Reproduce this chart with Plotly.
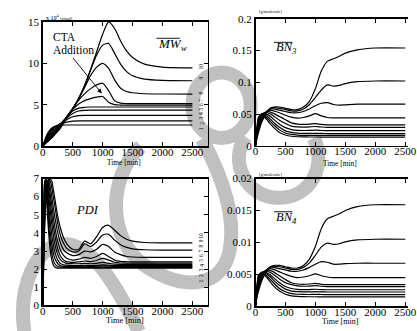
import plotly.graph_objects as go

W, H = 417, 331
FONT = "Liberation Serif"

# ---------------- data ----------------
X_TICKS = [0, 500, 1000, 1500, 2000, 2500]
X_TICKTEXT = ["0", "500", "1000", "1500", "2000", "2500"]
CURVE_LABELS = ["1", "2", "3", "4", "5", "6", "7", "8", "9", "10"]

# Weight-average molecular weight (x 10^4 g/mol), curves 1..10
TIME_MW = [0, 50, 100, 150, 200, 250, 300, 400, 500, 600, 700, 800, 900, 1000,
           1100, 1200, 1300, 1400, 1500, 1700, 2000, 2500]
MW_1 = [0, 1.10, 1.80, 2.20, 2.40, 2.50, 2.55, 2.56, 2.56, 2.56, 2.56, 2.56, 2.56, 2.56,
        2.56, 2.56, 2.56, 2.56, 2.56, 2.56, 2.56, 2.56]
MW_2 = [0, 0.95, 1.60, 2.05, 2.35, 2.55, 2.70, 2.90, 3.02, 3.05, 3.05, 3.05, 3.05, 3.05,
        3.05, 3.05, 3.05, 3.05, 3.05, 3.05, 3.05, 3.05]
MW_3 = [0, 0.85, 1.45, 1.90, 2.25, 2.50, 2.75, 3.20, 3.55, 3.70, 3.73, 3.73, 3.73, 3.73,
        3.73, 3.73, 3.73, 3.73, 3.73, 3.73, 3.73, 3.73]
MW_4 = [0, 0.75, 1.30, 1.75, 2.10, 2.45, 2.75, 3.40, 3.95, 4.25, 4.33, 4.35, 4.35, 4.35,
        4.35, 4.35, 4.35, 4.35, 4.35, 4.35, 4.35, 4.35]
MW_5 = [0, 0.65, 1.15, 1.60, 2.00, 2.35, 2.70, 3.50, 4.25, 4.60, 4.70, 4.73, 4.73, 4.73,
        4.73, 4.73, 4.73, 4.73, 4.73, 4.73, 4.73, 4.73]
MW_6 = [0, 0.55, 1.00, 1.45, 1.85, 2.25, 2.65, 3.55, 4.45, 5.10, 5.50, 5.75, 5.92, 6.00,
        5.30, 5.02, 4.97, 4.97, 4.97, 4.97, 4.97, 4.97]
MW_7 = [0, 0.50, 0.90, 1.30, 1.70, 2.10, 2.55, 3.55, 4.55, 5.55, 6.35, 6.95, 7.40, 7.60,
        6.70, 5.50, 5.20, 5.15, 5.15, 5.15, 5.15, 5.15]
MW_8 = [0, 0.45, 0.80, 1.20, 1.60, 2.00, 2.45, 3.55, 4.55, 5.70, 7.10, 8.55, 9.55, 10.0,
        9.40, 8.00, 7.00, 6.60, 6.45, 6.33, 6.30, 6.28]
MW_9 = [0, 0.40, 0.70, 1.10, 1.50, 1.90, 2.35, 3.45, 4.55, 5.75, 7.30, 9.20, 11.0, 12.2,
        12.4, 11.2, 9.90, 9.00, 8.50, 8.10, 7.95, 7.90]
MW_10 = [0, 0.35, 0.65, 1.00, 1.40, 1.80, 2.25, 3.40, 4.50, 5.80, 7.40, 9.30, 11.4, 13.5,
         15.0, 14.2, 12.7, 11.5, 10.7, 9.90, 9.55, 9.45]
MW_CURVES = [MW_1, MW_2, MW_3, MW_4, MW_5, MW_6, MW_7, MW_8, MW_9, MW_10]

# Polydispersity index, curves 1..10
TIME_PDI = [0, 10, 20, 30, 45, 60, 80, 100, 125, 150, 175, 200, 250, 300, 350, 400,
            500, 600, 700, 800, 900, 1000, 1100, 1200, 1300, 1400, 1500, 1700, 2000, 2500]
PDI_1 = [0, 4.3, 6.2, 6.9, 6.7, 6.0, 4.9, 3.9, 3.0, 2.5, 2.25, 2.12, 2.06, 2.05, 2.05, 2.05,
         2.05, 2.05, 2.05, 2.05, 2.05, 2.05, 2.05, 2.05, 2.05, 2.05, 2.05, 2.05, 2.05, 2.05]
PDI_2 = [0, 3.8, 5.8, 6.7, 6.9, 6.4, 5.4, 4.4, 3.5, 2.9, 2.5, 2.3, 2.15, 2.11, 2.10, 2.10,
         2.10, 2.10, 2.10, 2.10, 2.10, 2.11, 2.10, 2.10, 2.10, 2.10, 2.10, 2.10, 2.10, 2.10]
PDI_3 = [0, 3.4, 5.3, 6.4, 6.95, 6.7, 5.9, 5.0, 4.0, 3.35, 2.9, 2.6, 2.3, 2.18, 2.15, 2.15,
         2.15, 2.15, 2.16, 2.15, 2.16, 2.18, 2.16, 2.15, 2.15, 2.15, 2.15, 2.15, 2.15, 2.15]
PDI_4 = [0, 3.0, 4.9, 6.0, 6.85, 6.9, 6.3, 5.5, 4.6, 3.9, 3.35, 2.95, 2.5, 2.3, 2.24, 2.22,
         2.20, 2.20, 2.21, 2.20, 2.21, 2.24, 2.22, 2.20, 2.20, 2.20, 2.20, 2.20, 2.20, 2.20]
PDI_5 = [0, 2.7, 4.5, 5.7, 6.7, 6.95, 6.6, 6.0, 5.2, 4.5, 3.9, 3.4, 2.8, 2.5, 2.38, 2.32,
         2.30, 2.30, 2.32, 2.30, 2.32, 2.38, 2.32, 2.28, 2.27, 2.27, 2.27, 2.27, 2.27, 2.27]
PDI_6 = [0, 2.4, 4.2, 5.4, 6.5, 6.9, 6.8, 6.4, 5.7, 5.0, 4.4, 3.9, 3.1, 2.7, 2.5, 2.42,
         2.38, 2.40, 2.45, 2.42, 2.48, 2.60, 2.50, 2.38, 2.34, 2.33, 2.33, 2.33, 2.33, 2.33]
PDI_7 = [0, 2.1, 3.9, 5.1, 6.3, 6.8, 6.9, 6.65, 6.1, 5.5, 4.9, 4.35, 3.5, 3.0, 2.75, 2.6,
         2.50, 2.55, 2.65, 2.60, 2.70, 2.87, 2.70, 2.50, 2.43, 2.41, 2.40, 2.40, 2.40, 2.40]
PDI_8 = [0, 1.9, 3.6, 4.8, 6.0, 6.6, 6.9, 6.85, 6.5, 6.0, 5.4, 4.9, 4.0, 3.4, 3.05, 2.9,
         2.75, 2.80, 3.00, 2.95, 3.10, 3.37, 3.25, 2.95, 2.80, 2.70, 2.67, 2.65, 2.65, 2.65]
PDI_9 = [0, 1.7, 3.3, 4.5, 5.7, 6.35, 6.8, 6.95, 6.85, 6.5, 6.0, 5.5, 4.5, 3.8, 3.4, 3.15,
         2.95, 3.00, 3.40, 3.25, 3.50, 3.88, 3.92, 3.60, 3.35, 3.20, 3.12, 3.07, 3.05, 3.05]
PDI_10 = [0, 1.5, 3.0, 4.2, 5.4, 6.1, 6.6, 6.85, 6.95, 6.85, 6.4, 5.9, 4.9, 4.2, 3.7, 3.4,
          3.10, 3.10, 3.55, 3.40, 3.80, 4.30, 4.42, 4.15, 3.85, 3.65, 3.55, 3.47, 3.45, 3.45]
PDI_CURVES = [PDI_1, PDI_2, PDI_3, PDI_4, PDI_5, PDI_6, PDI_7, PDI_8, PDI_9, PDI_10]

# Branching (BN3, BN4), curves 1..10
TIME_BN = [0, 25, 50, 100, 150, 200, 250, 300, 400, 500, 600, 700, 800, 900, 1000,
           1100, 1200, 1300, 1400, 1500, 1700, 2000, 2500]
BN3_1 = [0, 0.030, 0.045, 0.048, 0.045, 0.040, 0.034, 0.029, 0.021, 0.017, 0.0150, 0.0142,
         0.0139, 0.0138, 0.0138, 0.0137, 0.0137, 0.0136, 0.0136, 0.0136, 0.0136, 0.0136, 0.0136]
BN3_2 = [0, 0.028, 0.043, 0.049, 0.047, 0.043, 0.038, 0.033, 0.025, 0.020, 0.0178, 0.0168,
         0.0164, 0.0163, 0.0164, 0.0163, 0.0162, 0.0162, 0.0162, 0.0162, 0.0162, 0.0162, 0.0162]
BN3_3 = [0, 0.026, 0.041, 0.050, 0.049, 0.046, 0.042, 0.037, 0.029, 0.0235, 0.0210, 0.0198,
         0.0194, 0.0194, 0.0196, 0.0194, 0.0192, 0.0192, 0.0192, 0.0192, 0.0192, 0.0192, 0.0192]
BN3_4 = [0, 0.024, 0.039, 0.050, 0.051, 0.049, 0.046, 0.042, 0.034, 0.0285, 0.0255, 0.0243,
         0.0240, 0.0241, 0.0245, 0.0240, 0.0237, 0.0237, 0.0237, 0.0237, 0.0237, 0.0237, 0.0237]
BN3_5 = [0, 0.022, 0.036, 0.049, 0.052, 0.052, 0.050, 0.047, 0.040, 0.035, 0.031, 0.0296,
         0.0294, 0.0297, 0.0303, 0.0295, 0.0290, 0.0290, 0.0290, 0.0290, 0.0290, 0.0290, 0.0290]
BN3_6 = [0, 0.020, 0.033, 0.047, 0.052, 0.054, 0.053, 0.051, 0.046, 0.041, 0.036, 0.0342,
         0.0338, 0.0342, 0.0350, 0.0336, 0.0329, 0.0328, 0.0328, 0.0328, 0.0328, 0.0328, 0.0328]
BN3_7 = [0, 0.018, 0.030, 0.045, 0.051, 0.055, 0.056, 0.055, 0.052, 0.048, 0.045, 0.0435,
         0.0445, 0.047, 0.0505, 0.047, 0.0445, 0.044, 0.044, 0.044, 0.044, 0.044, 0.044]
BN3_8 = [0, 0.016, 0.027, 0.042, 0.050, 0.055, 0.058, 0.058, 0.056, 0.054, 0.052, 0.052,
         0.054, 0.058, 0.063, 0.067, 0.068, 0.065, 0.064, 0.0645, 0.0655, 0.0657, 0.0657]
BN3_9 = [0, 0.014, 0.024, 0.039, 0.048, 0.055, 0.059, 0.060, 0.059, 0.057, 0.055, 0.055,
         0.058, 0.065, 0.076, 0.088, 0.096, 0.094, 0.095, 0.098, 0.101, 0.102, 0.102]
BN3_10 = [0, 0.012, 0.021, 0.036, 0.046, 0.054, 0.059, 0.061, 0.061, 0.059, 0.057, 0.057,
          0.061, 0.070, 0.090, 0.118, 0.133, 0.137, 0.141, 0.146, 0.151, 0.154, 0.154]
BN3_CURVES = [BN3_1, BN3_2, BN3_3, BN3_4, BN3_5, BN3_6, BN3_7, BN3_8, BN3_9, BN3_10]

BN4_1 = [0, 0.0033, 0.0049, 0.0052, 0.0049, 0.0044, 0.0038, 0.0032, 0.0024, 0.0019, 0.00165, 0.00156,
         0.00152, 0.00151, 0.00151, 0.0015, 0.0015, 0.0015, 0.0015, 0.0015, 0.0015, 0.0015, 0.0015]
BN4_2 = [0, 0.0031, 0.0047, 0.0053, 0.0051, 0.0047, 0.0042, 0.0037, 0.0028, 0.0023, 0.0020, 0.0019,
         0.00187, 0.00186, 0.00188, 0.00186, 0.00185, 0.00185, 0.00185, 0.00185, 0.00185, 0.00185, 0.00185]
BN4_3 = [0, 0.0029, 0.0045, 0.0053, 0.0052, 0.0050, 0.0046, 0.0041, 0.0033, 0.0027, 0.0024, 0.0023,
         0.00227, 0.00227, 0.0023, 0.00227, 0.00225, 0.00225, 0.00225, 0.00225, 0.00225, 0.00225, 0.00225]
BN4_4 = [0, 0.0027, 0.0042, 0.0053, 0.0054, 0.0052, 0.0049, 0.0045, 0.0037, 0.0031, 0.0028, 0.00266,
         0.00262, 0.00263, 0.00268, 0.00262, 0.0026, 0.0026, 0.0026, 0.0026, 0.0026, 0.0026, 0.0026]
BN4_5 = [0, 0.0025, 0.0039, 0.0052, 0.0055, 0.0055, 0.0053, 0.0050, 0.0043, 0.0037, 0.0034, 0.0032,
         0.00315, 0.00318, 0.00325, 0.00315, 0.0031, 0.0031, 0.0031, 0.0031, 0.0031, 0.0031, 0.0031]
BN4_6 = [0, 0.0023, 0.0036, 0.0050, 0.0055, 0.0057, 0.0056, 0.0054, 0.0048, 0.0042, 0.0037, 0.0035,
         0.00345, 0.0035, 0.0036, 0.00345, 0.0034, 0.0034, 0.0034, 0.0034, 0.0034, 0.0034, 0.0034]
BN4_7 = [0, 0.0021, 0.0033, 0.0048, 0.0054, 0.0058, 0.0059, 0.0058, 0.0054, 0.0050, 0.0047, 0.0045,
         0.0046, 0.0048, 0.0051, 0.0048, 0.0046, 0.0045, 0.0045, 0.0045, 0.0045, 0.0045, 0.0045]
BN4_8 = [0, 0.0019, 0.0030, 0.0045, 0.0053, 0.0058, 0.0061, 0.0061, 0.0059, 0.0057, 0.0055, 0.0055,
         0.0057, 0.0061, 0.0066, 0.0070, 0.0069, 0.0066, 0.0066, 0.0067, 0.00675, 0.00675, 0.00675]
BN4_9 = [0, 0.0017, 0.0027, 0.0042, 0.0051, 0.0058, 0.0062, 0.0063, 0.0062, 0.0060, 0.0058, 0.0058,
         0.0061, 0.0068, 0.0080, 0.0093, 0.0099, 0.0097, 0.0098, 0.0101, 0.0104, 0.0105, 0.0105]
BN4_10 = [0, 0.0015, 0.0024, 0.0039, 0.0049, 0.0057, 0.0062, 0.0064, 0.0064, 0.0062, 0.0060, 0.0060,
          0.0064, 0.0074, 0.0094, 0.0122, 0.0137, 0.0141, 0.0145, 0.0150, 0.0156, 0.0159, 0.0159]
BN4_CURVES = [BN4_1, BN4_2, BN4_3, BN4_4, BN4_5, BN4_6, BN4_7, BN4_8, BN4_9, BN4_10]

MW_Y_TICKS = [0, 5, 10, 15]
PDI_Y_TICKS = [0, 1, 2, 3, 4, 5, 6, 7]
BN3_Y_TICKS = [0, 0.05, 0.1, 0.15, 0.2]
BN3_Y_TEXT = ["0", "0.05", "0.1", "0.15", "0.2"]
BN4_Y_TICKS = [0, 0.005, 0.01, 0.015, 0.02]
BN4_Y_TEXT = ["0", "0.005", "0.01", "0.015", "0.02"]


# ---------------- helpers (pixel -> paper) ----------------
def PX(x):
    return x / W


def PY(y):
    return 1 - y / H


fig = go.Figure()


def add_curves(times, curves, xa, ya):
    for vals in curves:
        fig.add_trace(go.Scatter(
            x=times, y=vals, mode="lines",
            line=dict(color="black", width=1.2, shape="spline", smoothing=0.7),
            xaxis=xa, yaxis=ya, showlegend=False, hoverinfo="skip"))


add_curves(TIME_MW, MW_CURVES, "x", "y")
add_curves(TIME_BN, BN3_CURVES, "x2", "y2")
add_curves(TIME_PDI, PDI_CURVES, "x3", "y3")
add_curves(TIME_BN, BN4_CURVES, "x4", "y4")

common = dict(ticks="inside", ticklen=4, tickwidth=1, tickcolor="black",
              showline=True, linecolor="black", linewidth=1.5,
              showgrid=False, zeroline=False, fixedrange=True,
              tickfont=dict(family=FONT, size=11, color="black"))
xcommon = dict(ticklabelstandoff=-5, ticklabeloverflow="allow", **common)
ycommon = dict(ticklabelstandoff=0, **common)

LEFT_X = [PX(41), PX(211)]
RIGHT_X = [PX(260), 1.0]
LEFT_RANGE = [0, 2760]
RIGHT_RANGE = [0, 2546]

fig.update_layout(
    width=W, height=H, margin=dict(l=0, r=0, t=0, b=0),
    paper_bgcolor="white", plot_bgcolor="rgba(0,0,0,0)",
    showlegend=False,
    xaxis=dict(domain=LEFT_X, range=LEFT_RANGE, tickvals=X_TICKS, ticktext=X_TICKTEXT,
               anchor="y", mirror="ticks", **xcommon),
    yaxis=dict(domain=[PY(145.5), PY(16.5)], range=[0, 15], tickvals=MW_Y_TICKS,
               anchor="x", mirror="ticks", **ycommon),
    xaxis2=dict(domain=RIGHT_X, range=RIGHT_RANGE, tickvals=X_TICKS, ticktext=X_TICKTEXT,
                anchor="y2", mirror="ticks", **xcommon),
    yaxis2=dict(domain=[PY(145), PY(13.3)], range=[0, 0.2], tickvals=BN3_Y_TICKS,
                ticktext=BN3_Y_TEXT, anchor="x2", mirror=False, **ycommon),
    xaxis3=dict(domain=LEFT_X, range=LEFT_RANGE, tickvals=X_TICKS, ticktext=X_TICKTEXT,
                anchor="y3", mirror="ticks", **xcommon),
    yaxis3=dict(domain=[PY(310.7), PY(179)], range=[0, 7], tickvals=PDI_Y_TICKS,
                anchor="x3", mirror="ticks", **ycommon),
    xaxis4=dict(domain=RIGHT_X, range=RIGHT_RANGE, tickvals=X_TICKS, ticktext=X_TICKTEXT,
                anchor="y4", mirror="ticks", **xcommon),
    yaxis4=dict(domain=[PY(311.7), PY(179)], range=[0, 0.02], tickvals=BN4_Y_TICKS,
                ticktext=BN4_Y_TEXT, anchor="x4", mirror=False, **ycommon),
)

# ---------------- text ----------------
ann = []


def txt(x, y, text, size, xanchor="center", italic=False, angle=0):
    if italic:
        text = "<i>" + text + "</i>"
    ann.append(dict(x=PX(x), y=PY(y), xref="paper", yref="paper", text=text,
                    showarrow=False, xanchor=xanchor, yanchor="middle", textangle=angle,
                    font=dict(family=FONT, size=size, color="black")))


# axis titles
txt(125, 162, "Time [min]", 7.4)
txt(347, 163, "Time [min]", 7.4)
txt(126, 326.5, "Time [min]", 8.3)
txt(347, 327, "Time [min]", 8.0)

# unit labels
txt(42, 11.5, "x 10<sup>4</sup> <span style='font-size:4px'>[g/mol]</span>", 6, xanchor="left")
txt(262, 6, "[g/molecule]", 4.5, xanchor="left")
txt(262, 175, "[g/molecule]", 4.5, xanchor="left")

# panel titles
txt(158, 39.5, "MW<sub>w</sub>", 13, xanchor="left", italic=True)
txt(279, 43.5, "BN<sub>3</sub>", 12.5, xanchor="left", italic=True)
txt(73, 212, "PDI", 12.5, xanchor="left", italic=True)
txt(279, 219.5, "BN<sub>4</sub>", 12.5, xanchor="left", italic=True)

# CTA addition
txt(49, 32.5, "CTA", 11.5, xanchor="left")
txt(49, 46, "Addition", 11.5, xanchor="left")
ann.append(dict(x=985, y=6.37, xref="x", yref="y", ax=-30, ay=-37, axref="pixel",
                ayref="pixel", text="", showarrow=True, arrowhead=2, arrowsize=1,
                arrowwidth=0.9, arrowcolor="black"))

# curve number labels
MW_LABEL_Y = [127.7, 122, 116.7, 112, 107.3, 102.7, 98.3, 90.7, 75, 62.7]
PDI_LABEL_Y = [285.7, 280, 274, 269.3, 264.3, 259.3, 254.3, 249.3, 244, 238.3]
for lab, ym, yp in zip(CURVE_LABELS, MW_LABEL_Y, PDI_LABEL_Y):
    txt(204, ym, lab, 5.5, angle=-90)
    txt(204, yp, lab, 5.5, angle=-90)

fig.update_layout(annotations=ann)

# overlines on panel titles
shapes = []
for (x0, x1, y) in [(158, 182, 33.5), (279, 298, 37.7), (279, 298, 213.5)]:
    shapes.append(dict(type="line", xref="paper", yref="paper", x0=PX(x0), x1=PX(x1),
                       y0=PY(y), y1=PY(y), line=dict(color="black", width=0.9)))

# ---------------- grey watermark ----------------
GREY = "#c0c0c0"
SW = 14


def path_px(cmds):
    out = []
    for c in cmds:
        op, pts = c[0], c[1:]
        out.append(op + " " + " ".join("%.5f,%.5f" % (PX(px), PY(py)) for px, py in pts))
    return " ".join(out)


# upper ring
shapes.append(dict(type="circle", xref="paper", yref="paper", x0=PX(195), x1=PX(255),
                   y0=PY(137), y1=PY(69), line=dict(color=GREY, width=SW), layer="below"))
# lower open ring
shapes.append(dict(type="path", xref="paper", yref="paper", layer="below",
                   path=path_px([("M", (250, 136)),
                                 ("C", (232, 160), (250, 200), (285, 199)),
                                 ("C", (318, 198), (333, 165), (320, 137))]),
                   line=dict(color=GREY, width=SW)))
# big loop
shapes.append(dict(type="path", xref="paper", yref="paper", layer="below",
                   path=path_px([("M", (142, 146)),
                                 ("C", (108, 175), (105, 245), (150, 272)),
                                 ("C", (188, 296), (228, 292), (234, 250)),
                                 ("C", (240, 212), (222, 170), (205, 138))]),
                   line=dict(color=GREY, width=SW)))
# lower-left arch
shapes.append(dict(type="path", xref="paper", yref="paper", layer="below",
                   path=path_px([("M", (22, 338)),
                                 ("C", (15, 290), (35, 248), (62, 247)),
                                 ("C", (92, 246), (118, 292), (140, 338))]),
                   line=dict(color=GREY, width=SW)))

fig.update_layout(shapes=shapes)

fig.write_html("out.html",
               config={"displayModeBar": False, "staticPlot": True},
               post_script="document.body.style.margin='0px';"
                           "document.body.style.overflow='hidden';")
